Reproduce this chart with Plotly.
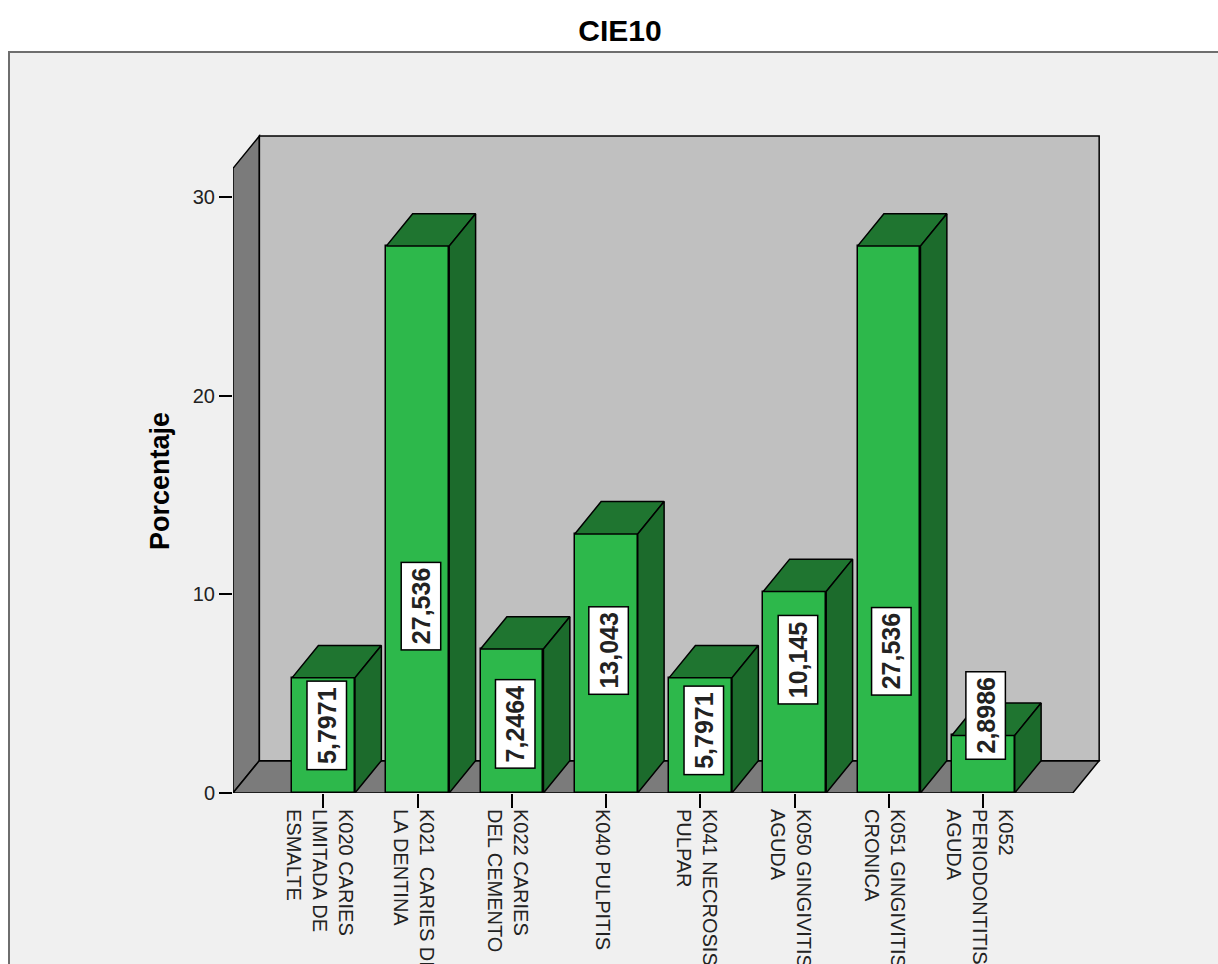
import plotly.graph_objects as go

# ---------------- data ----------------
categories = [
    "K020 CARIES<br>LIMITADA DE<br>ESMALTE",
    "K021  CARIES DE<br>LA DENTINA",
    "K022 CARIES<br>DEL CEMENTO",
    "K040 PULPITIS",
    "K041 NECROSIS<br>PULPAR",
    "K050 GINGIVITIS<br>AGUDA",
    "K051 GINGIVITIS<br>CRONICA",
    "K052<br>PERIODONTITIS<br>AGUDA",
]
percent = [5.7971, 27.536, 7.2464, 13.043, 5.7971, 10.145, 27.536, 2.8986]
y_ticks = [0, 10, 20, 30]
title_text = "CIE10"
y_title = "Porcentaje"

# label placement (centre of value boxes, in axis units)
label_pos = [3.42, 9.41, 3.47, 7.15, 3.17, 6.69, 7.15, 3.88]

# ---------------- styling / geometry ----------------
FRONT = "#2db84b"
TOP = "#1f7530"
SIDE = "#1c6b2c"
WALL_SIDE = "#7b7b7b"
WALL_BACK = "#c0c0c0"
FRAME_BG = "#f0f0f0"
FONT = "Liberation Sans, Arial, sans-serif"

bar_w = 0.668
dx, dy = 0.28, 1.63          # depth offset (x in category units, y in %)
x_left, x_right = -0.96, 7.95
y_max = 31.45
pad_x, pad_y = 0.03, 0.1

W, H = 1218, 964
ml, mb = 233, 171
plot_w = 866 + 3
plot_h = 657 + 2
mr = W - ml - plot_w
mt = H - mb - plot_h

x_idx = list(range(len(categories)))

fig = go.Figure()

# front faces as bars
fig.add_trace(go.Bar(
    x=x_idx, y=percent, width=bar_w,
    marker=dict(color=FRONT, line=dict(color="black", width=1.5)),
    hoverinfo="skip", showlegend=False,
))

# top and side faces
for i, v in enumerate(percent):
    l, r = i - bar_w / 2, i + bar_w / 2
    fig.add_trace(go.Scatter(
        x=[l, l + dx, r + dx, r, l], y=[v, v + dy, v + dy, v, v],
        mode="lines", fill="toself", fillcolor=TOP,
        line=dict(color="black", width=1.5), hoverinfo="skip", showlegend=False,
    ))
    fig.add_trace(go.Scatter(
        x=[r, r + dx, r + dx, r, r], y=[0, dy, v + dy, v, 0],
        mode="lines", fill="toself", fillcolor=SIDE,
        line=dict(color="black", width=1.5), hoverinfo="skip", showlegend=False,
    ))

shapes = []
# outer frame (paper coords)
px = lambda p: (p - ml) / plot_w
py = lambda p: (H - mb - p) / plot_h
shapes.append(dict(type="rect", xref="paper", yref="paper",
                   x0=px(9), x1=px(1240), y0=py(990), y1=py(52),
                   fillcolor=FRAME_BG, line=dict(color="#6e6e6e", width=2), layer="below"))


def poly(pts):
    return "M " + " L ".join(f"{a},{b}" for a, b in pts) + " Z"


# side wall, floor, back wall
shapes.append(dict(type="path", xref="x", yref="y", layer="below",
                   path=poly([(x_left, 0), (x_left, y_max), (x_left + dx, y_max + dy), (x_left + dx, dy)]),
                   fillcolor=WALL_SIDE, line=dict(color="black", width=1.5)))
shapes.append(dict(type="path", xref="x", yref="y", layer="below",
                   path=poly([(x_left, 0), (x_right, 0), (x_right + dx, dy), (x_left + dx, dy)]),
                   fillcolor=WALL_SIDE, line=dict(color="black", width=1.5)))
shapes.append(dict(type="path", xref="x", yref="y", layer="below",
                   path=poly([(x_left + dx, dy), (x_right + dx, dy), (x_right + dx, y_max + dy), (x_left + dx, y_max + dy)]),
                   fillcolor=WALL_BACK, line=dict(color="black", width=1.5)))

annotations = []
for i, (v, lp) in enumerate(zip(percent, label_pos)):
    annotations.append(dict(
        x=i + 0.03, y=lp, xref="x", yref="y", text=f"{v:.5g}".replace(".", ","),
        showarrow=False, textangle=-90,
        font=dict(family=FONT, size=25, color="#222222", weight="bold"),
        bgcolor="white", bordercolor="black", borderwidth=1.5, borderpad=5,
    ))

annotations.append(dict(
    x=px(160), y=py(481), xref="paper", yref="paper", text=y_title,
    showarrow=False, textangle=-90, xanchor="center", yanchor="middle",
    font=dict(family=FONT, size=27, color="black", weight="bold"),
))

fig.update_layout(
    width=W, height=H,
    margin=dict(l=ml, r=mr, t=mt, b=mb, autoexpand=False),
    paper_bgcolor="white", plot_bgcolor="rgba(0,0,0,0)",
    title=dict(text=title_text, x=620 / W, y=1 - 30 / H, xref="container", yref="container",
               xanchor="center", yanchor="middle",
               font=dict(family=FONT, size=30, color="black", weight="bold")),
    shapes=shapes, annotations=annotations, showlegend=False, bargap=0,
    font=dict(family=FONT, color="#222222"),
)

fig.update_xaxes(
    range=[x_left, x_right + dx + pad_x], tickmode="array", tickvals=x_idx, ticktext=categories,
    tickangle=90, ticks="outside", ticklen=14, tickwidth=1.5, tickcolor="black",
    ticklabelshift=-4, ticklabelstandoff=-3,
    showline=False, showgrid=False, zeroline=False, automargin=False,
    tickfont=dict(family=FONT, size=20, color="#222222"), fixedrange=True,
)
fig.update_yaxes(
    range=[0, y_max + dy + pad_y], tickmode="array", tickvals=y_ticks,
    ticks="outside", ticklen=13, tickwidth=1.5, tickcolor="black",
    showline=False, showgrid=False, zeroline=False, automargin=False,
    tickfont=dict(family=FONT, size=20, color="#222222"), fixedrange=True,
)

fig.write_html("out.html")
